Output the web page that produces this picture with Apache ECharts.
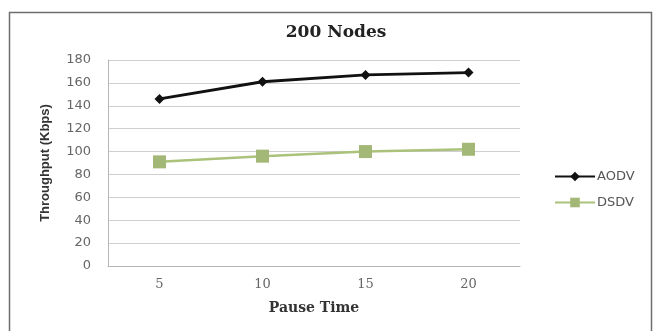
<!DOCTYPE html>
<html><head><meta charset="utf-8">
<script src="https://cdn.jsdelivr.net/npm/echarts@6/dist/echarts.min.js"></script>
<style>html,body{margin:0;padding:0;background:#fff}#c{width:654px;height:331px}</style>
</head><body><div id="c"></div>
<script>
const categories = ['5', '10', '15', '20'];
const aodv = [146, 161, 167, 169];
const dsdv = [91, 96, 100, 102];
const yTicks = { min: 0, max: 180, interval: 20 };

const chart = echarts.init(document.getElementById('c'), null, { renderer: 'canvas' });
chart.setOption({
  backgroundColor: '#fff',
  animation: false,
  graphic: [{
    type: 'rect', left: 7, top: 10,
    shape: { width: 642, height: 330 },
    style: { fill: 'none', stroke: '#6e6e6e', lineWidth: 1.5 }
  }],
  title: {
    text: '200 Nodes', left: 331, top: 19, textAlign: 'center',
    textStyle: { fontFamily: 'DejaVu Serif', fontWeight: 'bold', fontSize: 17, color: '#222' }
  },
  legend: {
    orient: 'vertical', left: 549, top: 165, itemGap: 13,
    itemWidth: 40, itemHeight: 12,
    textStyle: { fontFamily: 'DejaVu Sans', fontSize: 13, color: '#555', padding: [0, 0, 0, -3] },
    data: ['AODV', 'DSDV']
  },
  grid: { left: 108, right: 134, top: 60, bottom: 65 },
  xAxis: {
    type: 'category', data: categories, boundaryGap: true,
    name: 'Pause Time', nameLocation: 'middle', nameGap: 35,
    nameTextStyle: { fontFamily: 'DejaVu Serif', fontWeight: 'bold', fontSize: 14, color: '#333' },
    axisLine: { lineStyle: { color: '#b5b5b5' } },
    axisTick: { show: false },
    axisLabel: { margin: 12, fontFamily: 'DejaVu Serif', fontSize: 13, color: '#666' }
  },
  yAxis: {
    type: 'value', min: yTicks.min, max: yTicks.max, interval: yTicks.interval,
    name: 'Throughput (Kbps)', nameLocation: 'middle', nameGap: 56, nameRotate: 90,
    nameTextStyle: { fontFamily: 'Liberation Sans Narrow, Liberation Sans', fontWeight: 'bold', fontSize: 13, color: '#333' },
    axisLine: { show: true, lineStyle: { color: '#b5b5b5' } },
    axisTick: { show: false },
    splitLine: { lineStyle: { color: '#cfcfcf', width: 1.2 } },
    axisLabel: { margin: 17, fontFamily: 'DejaVu Sans', fontSize: 13, color: '#666' }
  },
  series: [{
    name: 'AODV', type: 'line', data: aodv,
    symbol: 'diamond', symbolSize: 10,
    lineStyle: { color: '#111', width: 2.8 },
    itemStyle: { color: '#111' }
  }, {
    name: 'DSDV', type: 'line', data: dsdv,
    symbol: 'rect', symbolSize: 13,
    lineStyle: { color: '#aac27a', width: 2.5 },
    itemStyle: { color: '#a3b877' }
  }]
});
</script></body></html>
